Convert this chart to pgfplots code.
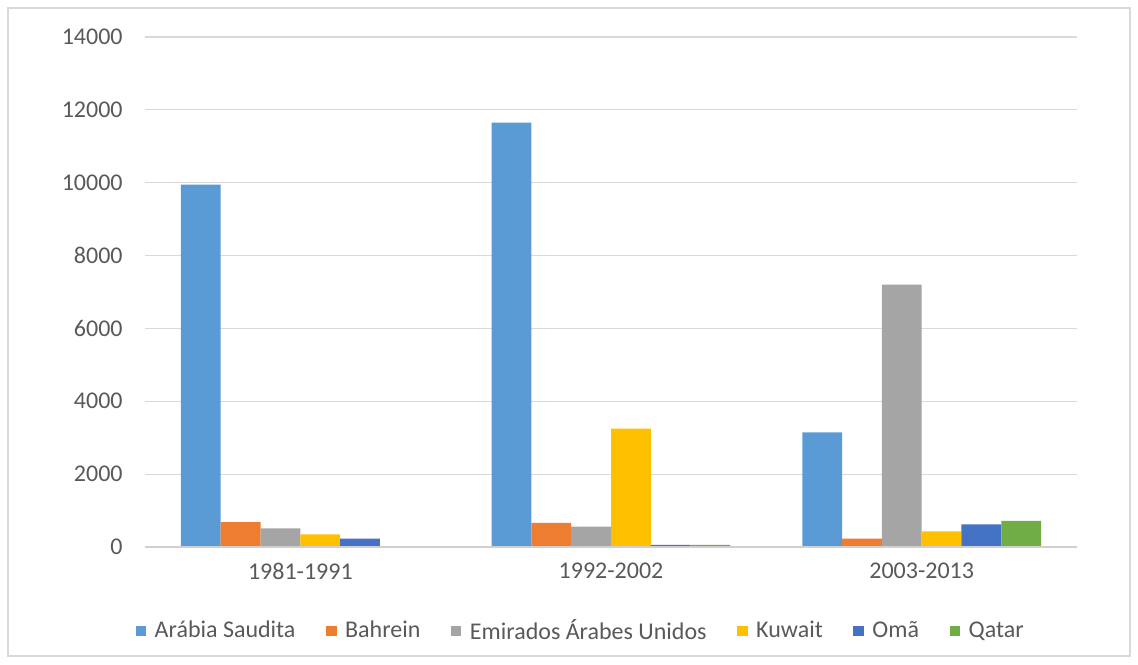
\documentclass[border=0pt]{standalone}
\usepackage{fontspec}
\setmainfont{Carlito}
\usepackage{pgfplots}
\pgfplotsset{compat=1.18}
\definecolor{cA}{HTML}{5B9BD5}
\definecolor{cB}{HTML}{ED7D31}
\definecolor{cC}{HTML}{A5A5A5}
\definecolor{cD}{HTML}{FFC000}
\definecolor{cE}{HTML}{4472C4}
\definecolor{cF}{HTML}{70AD47}
\definecolor{txt}{HTML}{595959}
\definecolor{gridc}{HTML}{D9D9D9}
\definecolor{base}{HTML}{D0D0D0}
\begin{document}
\fontsize{12}{14}\selectfont
\begin{tikzpicture}
\useasboundingbox (0,0) rectangle (569pt,332pt);
\draw[gridc, line width=0.8pt] (4pt,4pt) rectangle (565pt,328pt);
\begin{axis}[
  at={(72.5pt,58.5pt)}, anchor=south west,
  scale only axis, width=466pt, height=255pt,
  ymin=0, ymax=14000, ytick distance=2000,
  xmin=-0.5, xmax=2.5,
  xtick={0,1,2}, xticklabels={1981-1991,1992-2002,2003-2013},
  ybar=0pt, bar width=19.9pt,
  axis line style={draw=none},
  major tick length=0pt,
  xmajorgrids=false, ymajorgrids=true,
  y grid style={gridc, line width=0.6pt},
  tick label style={font=\fontsize{12}{14}\selectfont, text=txt},
  yticklabel style={xshift=-7pt},
  xticklabel style={yshift=-4pt},
  /pgf/number format/assume math mode=true,
  scaled y ticks=false,
  yticklabel={\pgfmathprintnumber[fixed,1000 sep={}]{\tick}},
  legend columns=6,
  legend style={at={(0.468,-0.165)}, anchor=center, draw=none, fill=none,
    font=\fontsize{12}{14}\selectfont, text=txt,
    /tikz/every odd column/.append style={column sep=2.8pt},
    /tikz/every even column/.append style={column sep=13.8pt},
    nodes={inner sep=1.5pt}},
  legend cell align=left,
  legend image code/.code={\fill[#1] (0pt,-2.6pt) rectangle (5.2pt,2.6pt);},
]
\addplot[fill=cA, draw=none] coordinates {(0,9950) (1,11650) (2,3150)};
\addplot[fill=cB, draw=none] coordinates {(0,680) (1,660) (2,230)};
\addplot[fill=cC, draw=none] coordinates {(0,510) (1,560) (2,7200)};
\addplot[fill=cD, draw=none] coordinates {(0,350) (1,3250) (2,430)};
\addplot[fill=cE, draw=none] coordinates {(0,230) (1,60) (2,620)};
\addplot[fill=cF, draw=none] coordinates {(0,0) (1,60) (2,720)};
\legend{Arábia Saudita, Bahrein, Emirados Árabes Unidos, Kuwait, Omã, Qatar}
\draw[base, line width=0.8pt] (axis cs:-0.5,0) -- (axis cs:2.5,0);
\end{axis}
\end{tikzpicture}
\end{document}
